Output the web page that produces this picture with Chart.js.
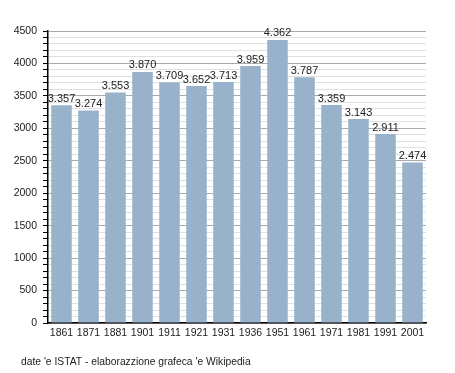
<!DOCTYPE html>
<html lang="it">
<head>
    <meta charset="UTF-8">
    <title>Popolazione</title>
    <script src="https://cdn.jsdelivr.net/npm/chart.js"></script>
    <style>
        html, body {
            margin: 0;
            padding: 0;
            background: #fff;
        }

        #wrap {
            width: 455px;
            height: 373px;
        }
    </style>
</head>
<body>
<div id="wrap"><canvas id="popChart"></canvas></div>

<script>
  const years = ['1861', '1871', '1881', '1901', '1911', '1921', '1931', '1936', '1951', '1961', '1971', '1981', '1991', '2001'];
  const inhabitants = [3357, 3274, 3553, 3870, 3709, 3652, 3713, 3959, 4362, 3787, 3359, 3143, 2911, 2474];
  const yMax = 4500;
  const majorStep = 500;
  const minorStep = 100;
  const caption = "date 'e ISTAT - elaborazzione grafeca 'e Wikipedia";

  const fontFamily = '"Liberation Sans", Arial, sans-serif';

  function fmt(v) {
    return v.toLocaleString('it-IT');
  }

  // values over the bars
  const barValues = {
    id: 'barValues',
    afterDatasetsDraw(chart) {
      const ctx = chart.ctx;
      const meta = chart.getDatasetMeta(0);
      ctx.save();
      ctx.font = '11px ' + fontFamily;
      ctx.fillStyle = '#222';
      ctx.textAlign = 'center';
      ctx.textBaseline = 'bottom';
      meta.data.forEach((bar, i) => {
        ctx.fillText(fmt(inhabitants[i]), bar.x, bar.y - 1);
      });
      ctx.restore();
    }
  };

  const captionText = {
    id: 'captionText',
    afterDraw(chart) {
      const ctx = chart.ctx;
      ctx.save();
      ctx.font = '10.3px ' + fontFamily;
      ctx.fillStyle = '#222';
      ctx.textAlign = 'left';
      ctx.textBaseline = 'middle';
      ctx.fillText(caption, 21, 362);
      ctx.restore();
    }
  };

  new Chart(document.getElementById('popChart'), {
    type: 'bar',
    data: {
      labels: years,
      datasets: [{
        data: inhabitants,
        backgroundColor: '#98b2cc',
        borderWidth: 0,
        barPercentage: 0.76,
        categoryPercentage: 1
      }]
    },
    options: {
      responsive: true,
      maintainAspectRatio: false,
      animation: false,
      layout: {
        padding: { top: 31, right: 29, bottom: 30, left: 0 }
      },
      plugins: {
        legend: { display: false },
        tooltip: { enabled: false }
      },
      scales: {
        x: {
          afterFit: s => { s.height = 20; },
          grid: { display: false, drawTicks: false },
          border: { display: true, color: '#000', width: 1.5 },
          ticks: {
            color: '#222',
            padding: 4,
            maxRotation: 0,
            autoSkip: false,
            font: { family: fontFamily, size: 10.5 }
          }
        },
        y: {
          min: 0,
          max: yMax,
          afterFit: s => { s.width = 48; },
          border: { display: true, color: '#000', width: 1.5 },
          grid: {
            color: c => (c.tick.value % majorStep === 0 ? '#aaaaaa' : '#e0e0e0'),
            lineWidth: 1,
            tickLength: 5,
            tickColor: '#000'
          },
          ticks: {
            stepSize: minorStep,
            color: '#222',
            padding: 6,
            autoSkip: false,
            font: { family: fontFamily, size: 10.5 },
            callback: v => (v % majorStep === 0 ? String(v) : '')
          }
        }
      }
    },
    plugins: [barValues, captionText]
  });
</script>
</body>
</html>
